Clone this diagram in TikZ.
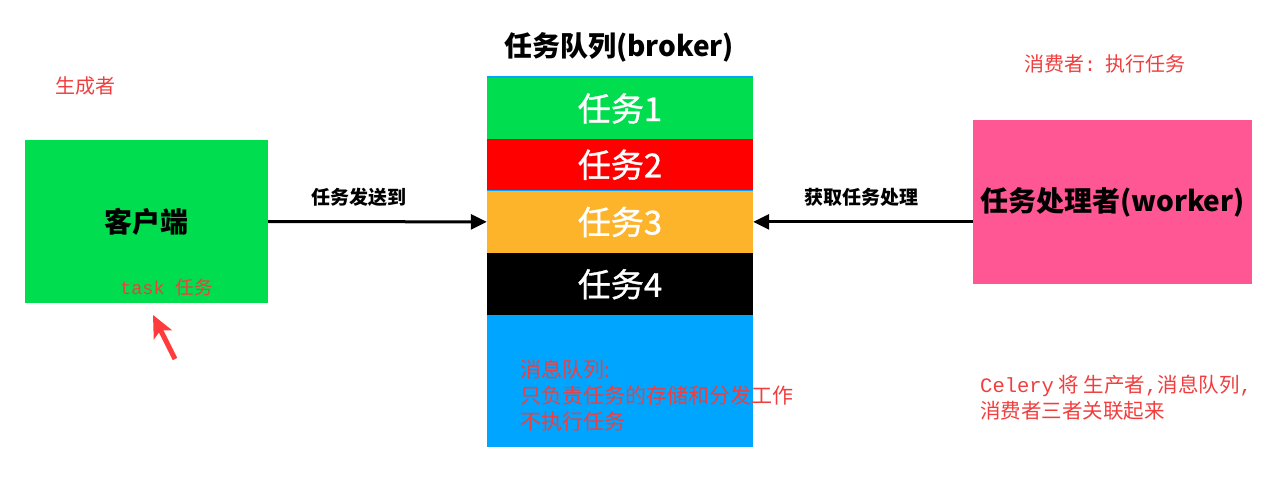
\documentclass[tikz,border=0pt]{standalone}
\usepackage{fontspec}
\setmainfont{Noto Sans CJK SC}
\newfontfamily\mono{Liberation Mono}
\newfontfamily\bandfont{Noto Sans CJK SC}[FakeBold=1]
\usetikzlibrary{arrows.meta}
\definecolor{clientgreen}{RGB}{0,221,78}
\definecolor{taskred}{RGB}{255,0,0}
\definecolor{taskorange}{RGB}{253,179,42}
\definecolor{queueblue}{RGB}{0,165,255}
\definecolor{workerpink}{RGB}{255,87,148}
\definecolor{notered}{RGB}{240,62,62}
\definecolor{arrowred}{RGB}{255,59,59}
\tikzset{
  box/.style={rectangle, inner sep=0pt, font=\fontsize{28}{32}\selectfont\bfseries},
  band/.style={rectangle, inner sep=0pt, minimum width=266pt, text=white, font=\fontsize{33}{36}\selectfont\bandfont},
  note/.style={anchor=west, inner sep=0pt, text=notered, align=left, font=\fontsize{20}{26}\selectfont},
  lbl/.style={inner sep=0pt, font=\fontsize{19}{22}\selectfont\bfseries},
  flow/.style={line width=3pt, -{Triangle[length=16pt,width=15pt]}},
  redarrow/.style={draw=arrowred, line width=5pt, -{Stealth[length=22pt,width=20pt,inset=5pt]}},
}

\begin{document}
\begin{tikzpicture}[x=1pt, y=-1pt]
    \useasboundingbox (0,0) rectangle (1264,481);
    \node[box, fill=clientgreen, minimum width=243pt, minimum height=163pt] (client) at (146.5,221.5) {客户端};
    \node[note] (producer) at (55,86) {生成者};
    \node[note, font=\fontsize{18.5}{22}\selectfont] (task) at (120,287) {{\mono task }任务};
    \node[box] (title) at (619,47) {任务队列(broker)};
    \node[rectangle, fill=queueblue, inner sep=0pt, minimum width=266pt, minimum height=370.5pt] (queue) at (620,261.75) {};
    \node[band, fill=clientgreen, minimum height=61pt] (q1) at (620,108.5) {任务1};
    \node[band, fill=taskred, minimum height=51.5pt] (q2) at (620,164.75) {\raisebox{-7pt}{任务2}};
    \node[band, fill=taskorange, minimum height=62.75pt] (q3) at (620,221.9) {任务3};
    \node[band, fill=black, minimum height=62pt] (q4) at (620,284.25) {任务4};
    \node[note, font=\fontsize{21}{26}\selectfont] (qnote) at (520,395) {消息队列:\\只负责任务的存储和分发工作\\不执行任务};
    \node[box, fill=workerpink, minimum width=279pt, minimum height=164pt] (worker) at (1112.5,202) {任务处理者(worker)};
    \node[note] (consumer) at (1024,64) {消费者{\mono:}\hspace{9pt}执行任务};
    \node[note, font=\fontsize{20.5}{26}\selectfont] (celery) at (980,398) {{\mono Celery} 将 生产者{\mono ,}消息队列{\mono ,}\\消费者三者关联起来};
    \coordinate (rtail) at (175,359);
    \coordinate (rtip) at (153,315);
    \draw [flow] (client.east) to node[pos=0.415, above=14pt, lbl] {任务发送到} (q3.west);
    \draw [flow] (worker.west |- q3.east) to node[pos=0.505, above=14pt, lbl] {获取任务处理} (q3.east);
    \draw [redarrow] (rtail) to (rtip);
  \end{tikzpicture}
\end{document}
